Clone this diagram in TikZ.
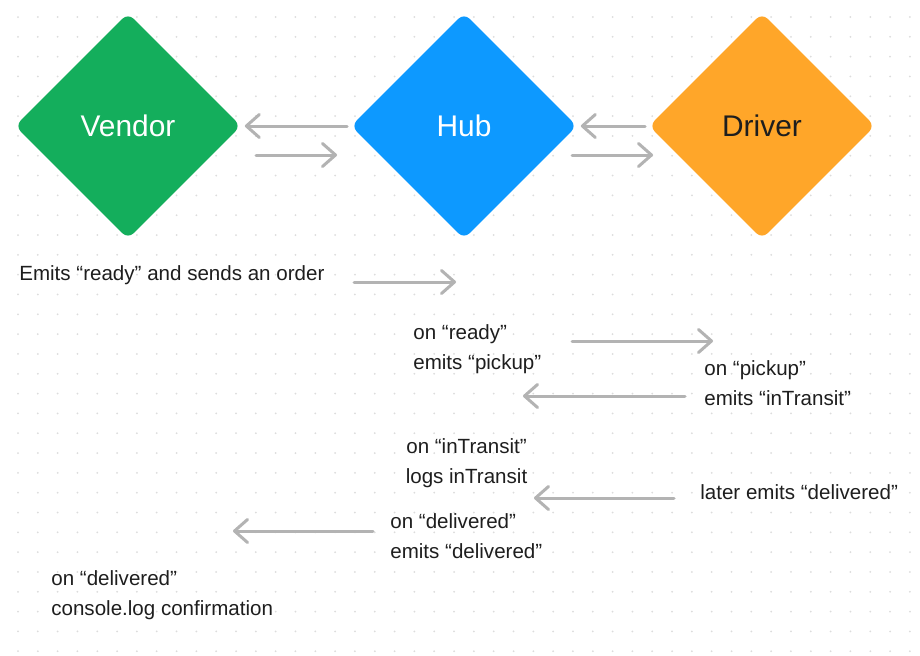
\documentclass[tikz,border=0pt]{standalone}
\usepackage{fontspec}
\setmainfont{Liberation Sans}
\usetikzlibrary{arrows.meta}
\usetikzlibrary{shapes.geometric}
\usetikzlibrary{positioning}
\definecolor{mgreen}{HTML}{14AE5C}
\definecolor{mblue}{HTML}{0D99FF}
\definecolor{morange}{HTML}{FFA629}
\definecolor{mgrey}{HTML}{B3B3B3}
\definecolor{mdot}{HTML}{DCDCDC}
\definecolor{mtext}{HTML}{1E1E1E}
\tikzset{actor/.style = {diamond, aspect=1, inner sep=0, minimum width=4.52cm,
                         minimum height=4.52cm, rounded corners=4.5pt,
                         font=\fontsize{17}{20}\selectfont}}
\tikzset{note/.style = {text=mtext, inner sep=0, align=left,
                        font=\fontsize{11.7}{17}\selectfont}}
\tikzset{flow/.style = {draw=mgrey, line width=0.06cm, line cap=round,
                        -{Straight Barb[length=0.26cm, width=0.46cm, line cap=round, round]}}}

\begin{document}
\begin{tikzpicture}[x=0.02cm, y=-0.02cm]
          \useasboundingbox [fill=white] (0, 0) rectangle (920, 656);
          \foreach \i in {0,...,45}
            \foreach \j in {0,...,32}
              \fill [mdot] (18+19.82*\i, 17+19.82*\j) circle [radius=1];

          \node [actor, fill=mgreen, text=white] (vendor) at (128, 126) {Vendor};
          \node [actor, fill=mblue, text=white] (hub) at (464, 126) {Hub};
          \node [actor, fill=morange, text=mtext] (driver) at (762, 126) {Driver};

          \node [note, anchor=west] (order) at (19, 275) {Emits “ready” and sends an order};
          \node [note, anchor=west] (hubready) at (413, 349.5) {on “ready”\\emits “pickup”};
          \node [note, anchor=west] (drvpickup) at (704, 383.5) {on “pickup”\\emits “inTransit”};
          \node [note, align=center] (hubtransit) at (466.5, 463) {on “inTransit”\\logs inTransit};
          \node [note, anchor=west] (drvlater) at (700, 492) {later emits “delivered”};
          \node [note, anchor=west] (hubdeliv) at (390, 536.5) {on “delivered”\\emits “delivered”};
          \node [note, anchor=west] (vndconfirm) at (51, 595.5) {on “delivered”\\console.log confirmation};

          \coordinate (vhs) at (256, 155);
          \coordinate (vhe) at (337, 155);
          \coordinate (hds) at (572, 155);
          \coordinate (hde) at (653, 155);
          \coordinate (ords) at (354, 282);
          \coordinate (orde) at (456, 282);
          \coordinate (rdys) at (572, 341);
          \coordinate (rdye) at (713, 341);
          \coordinate (pcks) at (685, 396);
          \coordinate (pcke) at (523, 396);
          \coordinate (lats) at (674, 498);
          \coordinate (late) at (534, 498);
          \coordinate (dlvs) at (373, 531);
          \coordinate (dlve) at (233, 531);

          \draw [flow, shorten <=2, shorten >=2] (hub.west) -- (vendor.east);
          \draw [flow] (vhs) -- (vhe);
          \draw [flow, shorten <=2, shorten >=2] (driver.west) -- (hub.east);
          \draw [flow] (hds) -- (hde);
          \draw [flow] (ords) -- (orde);
          \draw [flow] (rdys) -- (rdye);
          \draw [flow] (pcks) -- (pcke);
          \draw [flow] (lats) -- (late);
          \draw [flow] (dlvs) -- (dlve);
        \end{tikzpicture}
\end{document}
